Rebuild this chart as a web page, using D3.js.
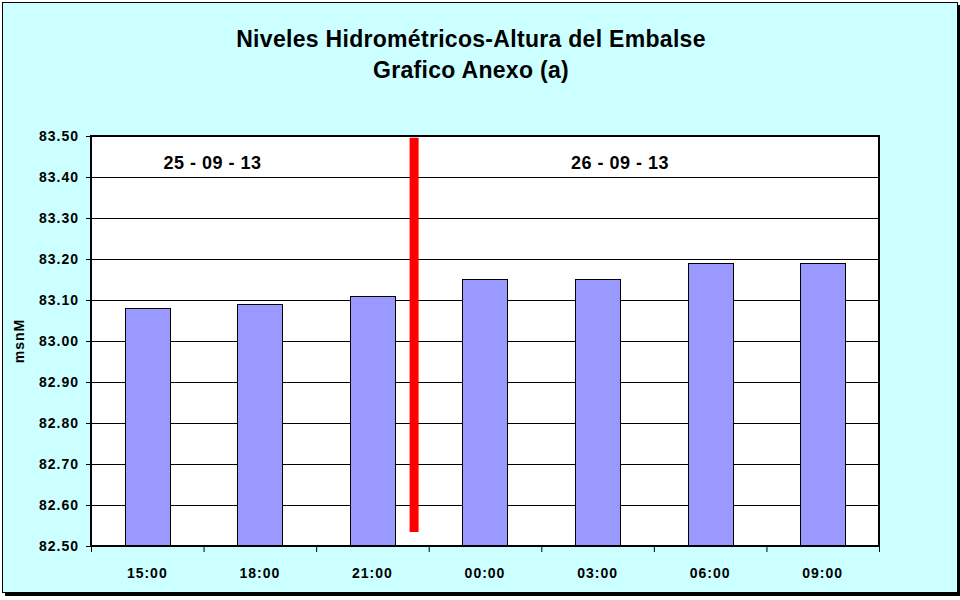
<!DOCTYPE html>
<html>
<head>
<meta charset="utf-8">
<script src="https://cdn.jsdelivr.net/npm/d3@7"></script>
<style>
  body { margin: 0; background: #fff; }
  text { font-family: "Liberation Sans", Arial, sans-serif; font-weight: bold; fill: #000; }
</style>
</head>
<body>
<div class="chart"></div>
<script>
// chart data
let categories = ["15:00", "18:00", "21:00", "00:00", "03:00", "06:00", "09:00"];
let levels = [83.08, 83.09, 83.11, 83.15, 83.15, 83.19, 83.19];
let yTicks = [82.5, 82.6, 82.7, 82.8, 82.9, 83.0, 83.1, 83.2, 83.3, 83.4, 83.5];
let dayLabels = ["25 - 09 - 13", "26 - 09 - 13"];
let dayLabelPos = [1.08, 4.7];     // in category units from the left
let dividerPos = 2.87;             // red day separator, category units
let dividerRange = [82.534, 83.496];
let titleLines = ["Niveles Hidrométricos-Altura del Embalse", "Grafico Anexo (a)"];
let yLabel = "msnM";

let margin = { top: 136, right: 81, bottom: 54, left: 91 };
let width = 960 - margin.left - margin.right;
let height = 600 - margin.top - margin.bottom;

let svg = d3.select(".chart").append("svg")
    .attr("width", 960)
    .attr("height", 600);

// outer frame with shadow
svg.append("rect")
    .attr("x", 5).attr("y", 5)
    .attr("width", 956).attr("height", 591)
    .attr("fill", "#000");
svg.append("rect")
    .attr("x", 2.5).attr("y", 2.5)
    .attr("width", 955).attr("height", 590)
    .attr("fill", "#ccffff")
    .attr("stroke", "#000")
    .attr("stroke-width", 1);

// titles
svg.selectAll(".title")
    .data(titleLines)
    .enter()
    .append("text")
    .attr("class", "title")
    .attr("x", 471)
    .attr("y", (d, i) => 47 + i * 31)
    .attr("text-anchor", "middle")
    .style("font-size", "23px")
    .style("letter-spacing", "0.3px")
    .text(d => d);

let plot = svg.append("g")
    .attr("transform", `translate(${margin.left},${margin.top})`);

let xScale = d3.scaleBand()
    .domain(categories)
    .range([0, width])
    .paddingInner(0.6)
    .paddingOuter(0.3);

// linear helper for positions between categories
let xPos = d3.scaleLinear()
    .domain([0, categories.length])
    .range([0, width]);

let yScale = d3.scaleLinear()
    .domain([82.5, 83.5])
    .range([height, 0]);

plot.append("rect")
    .attr("width", width)
    .attr("height", height)
    .attr("fill", "#fff");

// gridlines
plot.selectAll(".grid")
    .data(yTicks)
    .enter()
    .append("line")
    .attr("class", "grid")
    .attr("x1", 0).attr("x2", width)
    .attr("y1", d => Math.round(yScale(d)) + 0.5)
    .attr("y2", d => Math.round(yScale(d)) + 0.5)
    .attr("stroke", "#000")
    .attr("stroke-width", 1);

// bars
plot.selectAll(".bar")
    .data(levels)
    .enter()
    .append("rect")
    .attr("class", "bar")
    .attr("x", (d, i) => Math.round(xScale(categories[i])) + 0.5)
    .attr("y", d => Math.round(yScale(d)) + 0.5)
    .attr("width", Math.round(xScale.bandwidth()))
    .attr("height", d => height - Math.round(yScale(d)))
    .attr("fill", "#9999ff")
    .attr("stroke", "#000")
    .attr("stroke-width", 1);

// red separator between days
plot.append("line")
    .attr("x1", xPos(dividerPos)).attr("x2", xPos(dividerPos))
    .attr("y1", yScale(dividerRange[1]))
    .attr("y2", yScale(dividerRange[0]))
    .attr("stroke", "#ff0000")
    .attr("stroke-width", 9);

// day labels
plot.selectAll(".day")
    .data(dayLabels)
    .enter()
    .append("text")
    .attr("class", "day")
    .attr("x", (d, i) => xPos(dayLabelPos[i]))
    .attr("y", 33)
    .attr("text-anchor", "middle")
    .style("font-size", "18px")
    .style("letter-spacing", "0.5px")
    .text(d => d);

// plot border
plot.append("rect")
    .attr("width", width)
    .attr("height", height)
    .attr("fill", "none")
    .attr("stroke", "#000")
    .attr("stroke-width", 2);

// y axis
let yAxis = plot.append("g")
    .call(d3.axisLeft(yScale)
        .tickValues(yTicks)
        .tickSize(5)
        .tickPadding(7)
        .tickFormat(d3.format(".2f")));
yAxis.select(".domain").remove();
yAxis.selectAll(".tick line").attr("stroke", "#000");
yAxis.selectAll("text")
    .style("font-size", "14px")
    .style("font-family", "'Liberation Sans', Arial, sans-serif")
    .style("font-weight", "bold")
    .style("letter-spacing", "1px")
    .attr("dy", "0.35em");

// x axis: ticks at band edges, labels centred
let xAxis = plot.append("g")
    .attr("transform", `translate(0,${height})`)
    .call(d3.axisBottom(xPos)
        .tickValues(d3.range(categories.length + 1))
        .tickSize(6)
        .tickFormat(""));
xAxis.select(".domain").remove();
xAxis.selectAll(".tick line").attr("stroke", "#000");

plot.selectAll(".xlabel")
    .data(categories)
    .enter()
    .append("text")
    .attr("class", "xlabel")
    .attr("x", d => xScale(d) + xScale.bandwidth() / 2)
    .attr("y", height + 32)
    .attr("text-anchor", "middle")
    .style("font-size", "14px")
    .style("letter-spacing", "1px")
    .text(d => d);

// y axis title
svg.append("text")
    .attr("transform", "translate(24,341) rotate(-90)")
    .attr("text-anchor", "middle")
    .style("font-size", "14px")
    .style("letter-spacing", "1px")
    .text(yLabel);
</script>
</body>
</html>
